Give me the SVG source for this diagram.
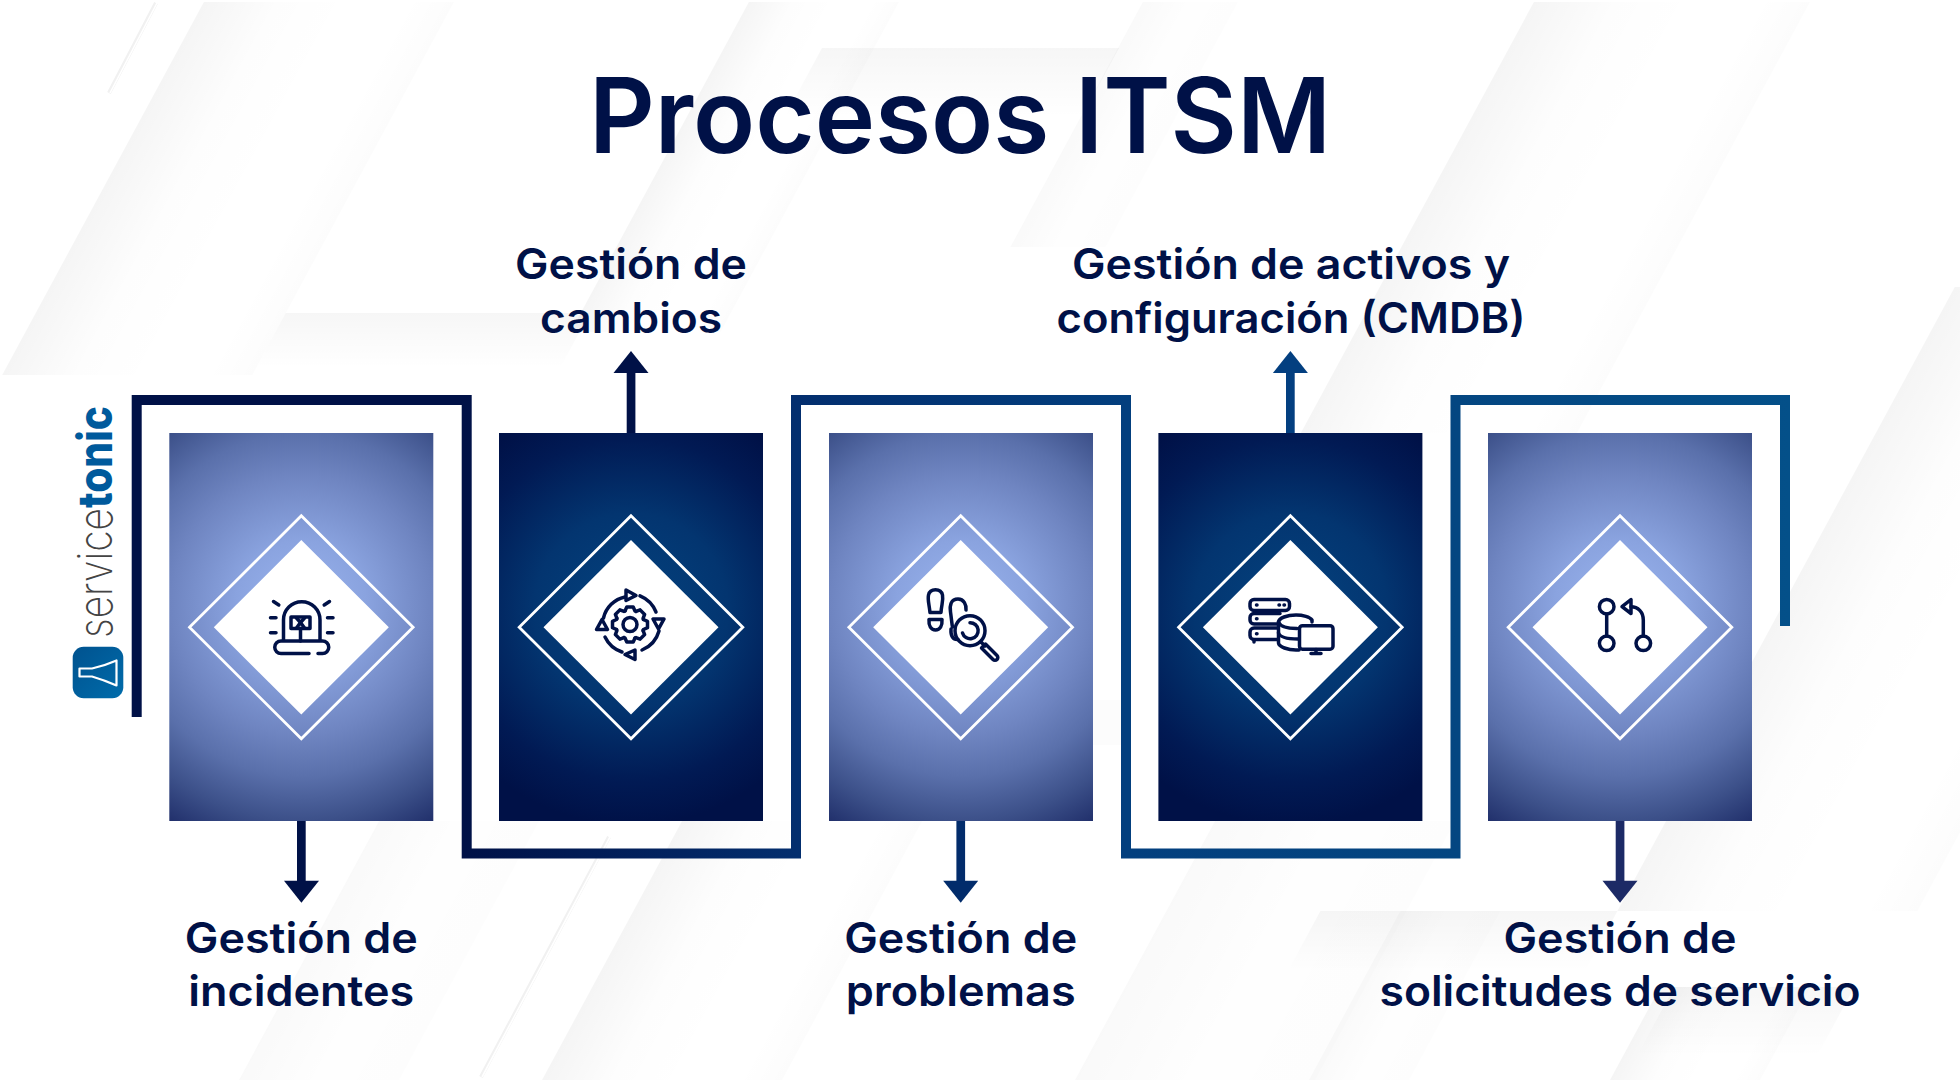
<svg xmlns="http://www.w3.org/2000/svg" width="1960" height="1080" viewBox="0 0 1960 1080">
<style>
text{font-family:Inter,"Noto Sans","Liberation Sans",sans-serif}
.title{font-size:104px;font-weight:600;fill:#001147}
.label{font-size:42px;font-weight:600;fill:#001147;text-anchor:middle}
.ic{fill:none;stroke:#001147;stroke-width:3.5;stroke-linecap:round;stroke-linejoin:round}
.icw{fill:#fff;stroke:#001147;stroke-width:3.5;stroke-linecap:round;stroke-linejoin:round}
.dout{fill:none;stroke:#fff;stroke-width:2.8}
.din{fill:#fff}
.fr{fill:url(#fadeR)}
.frl{fill:url(#fadeRL)}
.fd{fill:url(#fadeD)}
</style>
<defs>
<linearGradient id="fadeR" x1="0" x2="1" y1="0" y2="0"><stop offset="0" stop-color="#000" stop-opacity=".04"/><stop offset=".3" stop-color="#000" stop-opacity=".008"/><stop offset=".6" stop-color="#000" stop-opacity="0"/><stop offset=".85" stop-color="#000" stop-opacity=".002"/><stop offset="1" stop-color="#000" stop-opacity=".012"/></linearGradient>
<linearGradient id="fadeRL" x1="0" x2="1" y1="0" y2="0"><stop offset="0" stop-color="#000" stop-opacity=".022"/><stop offset=".5" stop-color="#000" stop-opacity=".004"/><stop offset="1" stop-color="#000" stop-opacity=".008"/></linearGradient>
<linearGradient id="fadeD" x1="0" x2="0" y1="0" y2="1"><stop offset="0" stop-color="#000" stop-opacity=".035"/><stop offset="1" stop-color="#000" stop-opacity="0"/></linearGradient>
<radialGradient id="light" gradientUnits="userSpaceOnUse" cx="132" cy="605" r="260"><stop offset="0" stop-color="#9ab4ee"/><stop offset=".25" stop-color="#8aa3df"/><stop offset=".5" stop-color="#6f85c1"/><stop offset=".66" stop-color="#5a70ab"/><stop offset=".83" stop-color="#3c5089"/><stop offset="1" stop-color="#1c2a66"/></radialGradient>
<radialGradient id="dark" gradientUnits="userSpaceOnUse" cx="132" cy="610" r="215"><stop offset="0" stop-color="#04437f"/><stop offset=".45" stop-color="#033570"/><stop offset=".8" stop-color="#011a54"/><stop offset="1" stop-color="#001147"/></radialGradient>
<linearGradient id="wire" gradientUnits="userSpaceOnUse" x1="132" x2="1790" y1="0" y2="0"><stop offset="0" stop-color="#001147"/><stop offset=".2" stop-color="#001147"/><stop offset=".4" stop-color="#032e6e"/><stop offset=".6" stop-color="#033f7e"/><stop offset=".8" stop-color="#044681"/><stop offset="1" stop-color="#045089"/></linearGradient>
<linearGradient id="logoBg" x1="0" x2="1" y1="0" y2="1"><stop offset="0" stop-color="#00528f"/><stop offset="1" stop-color="#006cab"/></linearGradient>
<path id="tooth" d="M13.5 -5L17.5 -3.2V3.2L13.5 5L13.08 6.01"/>
</defs>

<g id="background">
<rect width="1960" height="1080" fill="#fff"/>
<g transform="translate(205 0) skewX(-28.4)"><rect y="2" width="250" height="373" class="fr"/></g>
<g transform="translate(750 0) skewX(-28.4)"><rect y="2" width="150" height="330" class="fr"/></g>
<g transform="translate(1144 0) skewX(-28.4)"><rect y="2" width="95" height="245" class="frl"/></g>
<g transform="translate(848 0) skewX(-28.4)"><rect y="48" width="297" height="70" class="fd"/></g>
<g transform="translate(455 0) skewX(-28.4)"><rect y="313" width="304" height="55" class="fd"/></g>
<g transform="translate(1535 0) skewX(-28.4)"><rect y="2" width="276" height="431" class="fr"/></g>
<g transform="translate(2110 0) skewX(-28.4)"><rect y="287" width="300" height="624" class="fr"/></g>
<g transform="translate(1659 0) skewX(-28.4)"><rect y="821" width="240" height="259" class="frl"/></g>
<g transform="translate(1893 0) skewX(-28.4)"><rect y="911" width="100" height="169" class="frl"/></g>
<g transform="translate(1813 0) skewX(-28.4)"><rect y="911" width="297" height="60" class="fd"/></g>
<g transform="translate(2194 0) skewX(-28.4)"><rect y="987" width="150" height="93" class="fr"/></g>
<g transform="translate(2208 0) skewX(-28.4)"><rect y="987" width="180" height="70" class="fd"/></g>
<g transform="translate(1126 0) skewX(-28.4)"><rect y="821" width="240" height="259" class="fr"/></g>
<g transform="translate(823 0) skewX(-28.4)"><rect y="821" width="160" height="259" class="frl"/></g>
<path d="M609 837L481 1077M156 3L109 93" stroke="#f1f1f1" stroke-width="4" fill="none"/>
<path d="M610 837L482 1077M157 3L110 93" stroke="#fff" stroke-width="1.6" fill="none"/>
<rect x="1093" y="700" width="28" height="45" fill="#000" opacity=".012"/>
</g>

<text id="title" class="title" x="589" y="153" textLength="742" lengthAdjust="spacingAndGlyphs">Procesos ITSM</text>

<g id="logo">
<rect x="72.7" y="646.7" width="50.6" height="51.6" rx="11" fill="url(#logoBg)"/>
<path d="M79.5 668.5H92Q104 666 116.5 660.500V685.500Q104 680 92 676.500H79.500Z" fill="none" stroke="#fff" stroke-width="2.2" stroke-linejoin="round"/>
<text transform="translate(112 638) rotate(-90)" font-size="48"><tspan fill="#444" font-weight="200" textLength="130" lengthAdjust="spacingAndGlyphs">service</tspan><tspan fill="#005a9c" font-weight="800" textLength="102" lengthAdjust="spacingAndGlyphs">tonic</tspan></text>
</g>

<g id="connectors">
<path d="M136.7 717V400H466.7V853.5H796V400H1126V853.5H1455.5V400H1785V626" fill="none" stroke="url(#wire)" stroke-width="10"/>
<g id="arrow-1" fill="#001147"><rect x="297" y="820" width="8.7" height="62"/><path d="M284 880.7H319L301.4 902.7Z"/></g>
<g id="arrow-2" fill="#001147"><rect x="626.7" y="372" width="8.7" height="62"/><path d="M613.5 373H648.5L631 351Z"/></g>
<g id="arrow-3" fill="#022c6b"><rect x="956.4" y="820" width="8.7" height="62"/><path d="M943.2 880.7H978.2L960.7 902.7Z"/></g>
<g id="arrow-4" fill="#033f80"><rect x="1286" y="372" width="8.7" height="62"/><path d="M1272.9 373H1307.9L1290.4 351Z"/></g>
<g id="arrow-5" fill="#1c2a66"><rect x="1615.7" y="820" width="8.7" height="62"/><path d="M1602.5 880.7H1637.5L1620 902.7Z"/></g>
</g>

<g id="node-incidentes">
<rect transform="translate(169.3 0)" y="433" width="264" height="388" fill="url(#light)"/>
<path class="dout" d="M301.3 515.800L413.100 627.300L301.300 738.800L189.500 627.300Z"/>
<path class="din" d="M301.3 540L388.8 627.3L301.3 714.6L213.8 627.3Z"/>
<g class="ic">
<path d="M283.5 640V620A18.25 18.25 0 0 1 320 620V640"/>
<path d="M309 653.5H281a6.25 6.25 0 0 1 0-12.5H322.500a6.25 6.25 0 0 1 0 12.500H318"/>
<rect x="291" y="617" width="19" height="11.500"/>
<path d="M300.500 628.500V641M300.500 622.500L296.500 618M300.500 622.500L296.500 628M300.500 622.500L304.500 618M300.500 622.500L304.500 628"/>
<path d="M273.500 601.500L278.800 605M329.500 601.500L324.200 605M270.500 617.700H276M270.500 632.700H276M327.500 617.700H333M327.500 632.700H333"/>
</g>
<text class="label" x="301.300" y="953" textLength="233" lengthAdjust="spacingAndGlyphs">Gestión de</text>
<text class="label" x="301.300" y="1006" textLength="226" lengthAdjust="spacingAndGlyphs">incidentes</text>
</g>

<g id="node-cambios">
<rect transform="translate(499 0)" y="433" width="264" height="388" fill="url(#dark)"/>
<path class="dout" d="M631 515.800L742.800 627.300L631 738.800L519.200 627.300Z"/>
<path class="din" d="M631 540L718.500 627.300L631 714.600L543.500 627.300Z"/>
<g class="ic">
<circle cx="630" cy="624.500" r="7"/>
<g transform="translate(630 624.500)">
<use href="#tooth"/><use href="#tooth" transform="rotate(45)"/><use href="#tooth" transform="rotate(90)"/><use href="#tooth" transform="rotate(135)"/><use href="#tooth" transform="rotate(180)"/><use href="#tooth" transform="rotate(225)"/><use href="#tooth" transform="rotate(270)"/><use href="#tooth" transform="rotate(315)"/>
</g>
<path d="M625 597A28 28 0 0 0 603.500 618M640 595.800A29 29 0 0 1 656 612M659 631A29 29 0 0 1 642 650M622 652A29 29 0 0 1 605 637"/>
<path d="M626 590L636 595.500L626 600.500ZM664 619L658.500 629L653 619ZM635 650L625 654.500L635 659.500ZM596.500 629.500L602 619.500L607.500 629.500Z"/>
</g>
<text class="label" x="631" y="279" textLength="232" lengthAdjust="spacingAndGlyphs">Gestión de</text>
<text class="label" x="631" y="333" textLength="182" lengthAdjust="spacingAndGlyphs">cambios</text>
</g>

<g id="node-problemas">
<rect transform="translate(829 0)" y="433" width="264" height="388" fill="url(#light)"/>
<path class="dout" d="M960.700 515.800L1072.500 627.300L960.700 738.800L848.900 627.300Z"/>
<path class="din" d="M960.700 540L1048.200 627.300L960.700 714.600L873.200 627.300Z"/>
<g class="ic">
<path d="M930 612.500C929 603 927.500 600 928.500 595C930 588 941 588 942.500 595C943.500 601 941.500 604 941 612.500Z"/>
<path d="M929 619.500H942C942.500 626 940 630 935.500 630C931 630 928.500 626 929 619.500Z"/>
<path d="M966 610C966.500 605 964 599 958 599C951 599 949.500 605 950.500 612C951.500 619 952 625 952.500 627"/>
<path d="M951 629C950.500 636 953 640 958 639.500"/>
<circle cx="970" cy="630.700" r="15"/>
<path d="M970 622.700A8 8 0 1 1 962.500 633"/>
<path d="M981 642L985 646"/>
<path d="M985.500 644L997 655.500A2.700 2.700 0 0 1 993 659.500L981.500 648Z"/>
</g>
<text class="label" x="960.700" y="953" textLength="233" lengthAdjust="spacingAndGlyphs">Gestión de</text>
<text class="label" x="960.700" y="1006" textLength="230" lengthAdjust="spacingAndGlyphs">problemas</text>
</g>

<g id="node-cmdb">
<rect transform="translate(1158.400 0)" y="433" width="264" height="388" fill="url(#dark)"/>
<path class="dout" d="M1290.400 515.800L1402.200 627.300L1290.400 738.800L1178.600 627.300Z"/>
<path class="din" d="M1290.400 540L1377.900 627.300L1290.400 714.600L1202.900 627.300Z"/>
<g class="ic">
<rect x="1250" y="599.500" width="39.500" height="11" rx="4"/>
<path d="M1280 613.500H1254a4 4 0 0 0-4 4V620a4 4 0 0 0 4 4H1277"/>
<path d="M1277 628H1254a4 4 0 0 0-4 4V635.500a4 4 0 0 0 4 4H1277"/>
<path d="M1254 640V642"/>
<path d="M1256.500 605H1257M1256.500 618.800H1257M1256.500 633.700H1257M1279 605H1279.500M1284 605H1284.500"/>
<path d="M1312 622V620C1310 617 1303 615 1296 615C1287 615 1279 618 1278.500 622V643C1279 647 1288 650 1296 650H1299"/>
<path d="M1278.500 622C1280 626 1287 628.500 1297 628.500M1278.500 633C1280 637 1287 639 1298 639"/>
<rect class="icw" x="1299.500" y="625.700" width="33.500" height="23.500" rx="3"/>
<path d="M1316 649.500V653M1311 653.500H1321"/>
</g>
<text class="label" x="1291" y="279" textLength="438" lengthAdjust="spacingAndGlyphs">Gestión de activos y</text>
<text class="label" x="1291" y="333" textLength="469" lengthAdjust="spacingAndGlyphs">configuración (CMDB)</text>
</g>

<g id="node-solicitudes">
<rect transform="translate(1488 0)" y="433" width="264" height="388" fill="url(#light)"/>
<path class="dout" d="M1620 515.800L1731.800 627.300L1620 738.800L1508.200 627.300Z"/>
<path class="din" d="M1620 540L1707.500 627.300L1620 714.600L1532.500 627.300Z"/>
<g class="ic">
<circle cx="1606.700" cy="606.700" r="7.300"/>
<circle cx="1606.700" cy="643.300" r="7.300"/>
<circle cx="1643.300" cy="643.300" r="7.300"/>
<path d="M1606.700 614V636M1631 606.700C1638 606.700 1643.300 612 1643.300 620V636"/>
<path d="M1622 606.700L1631 599.500V613.500Z"/>
</g>
<text class="label" x="1620" y="953" textLength="233" lengthAdjust="spacingAndGlyphs">Gestión de</text>
<text class="label" x="1620" y="1006" textLength="481" lengthAdjust="spacingAndGlyphs">solicitudes de servicio</text>
</g>
</svg>
